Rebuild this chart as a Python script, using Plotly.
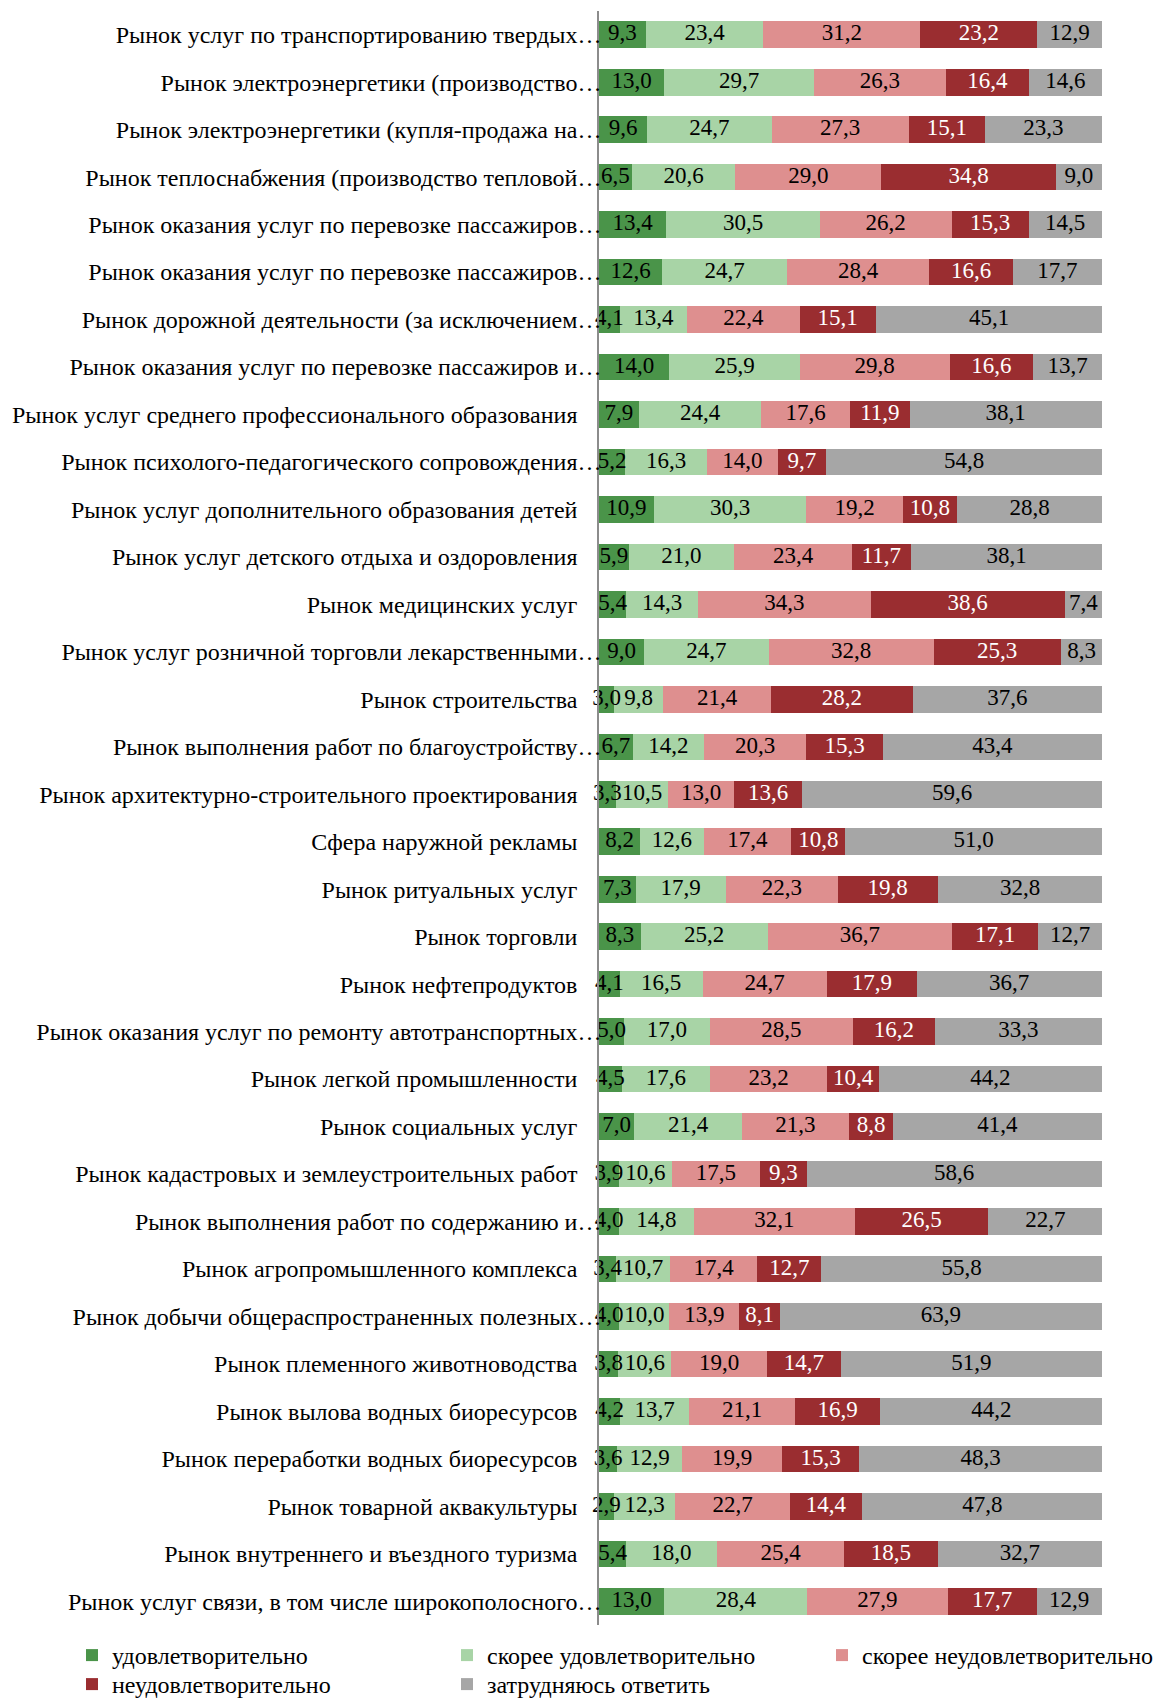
import plotly.graph_objects as go

categories = [
    "Рынок услуг по транспортированию твердых…",
    "Рынок электроэнергетики (производство…",
    "Рынок электроэнергетики (купля-продажа на…",
    "Рынок теплоснабжения (производство тепловой…",
    "Рынок оказания услуг по перевозке пассажиров…",
    "Рынок оказания услуг по перевозке пассажиров…",
    "Рынок дорожной деятельности (за исключением…",
    "Рынок оказания услуг по перевозке пассажиров и…",
    "Рынок услуг среднего профессионального образования",
    "Рынок психолого-педагогического сопровождения…",
    "Рынок услуг дополнительного образования детей",
    "Рынок услуг детского отдыха и оздоровления",
    "Рынок медицинских услуг",
    "Рынок услуг розничной торговли лекарственными…",
    "Рынок строительства",
    "Рынок выполнения работ по благоустройству…",
    "Рынок архитектурно-строительного проектирования",
    "Сфера наружной рекламы",
    "Рынок ритуальных услуг",
    "Рынок торговли",
    "Рынок нефтепродуктов",
    "Рынок оказания услуг по ремонту автотранспортных…",
    "Рынок легкой промышленности",
    "Рынок социальных услуг",
    "Рынок кадастровых и землеустроительных работ",
    "Рынок выполнения работ по содержанию и…",
    "Рынок агропромышленного комплекса",
    "Рынок добычи общераспространенных полезных…",
    "Рынок племенного животноводства",
    "Рынок вылова водных биоресурсов",
    "Рынок переработки водных биоресурсов",
    "Рынок товарной аквакультуры",
    "Рынок внутреннего и въездного туризма",
    "Рынок услуг связи, в том числе широкополосного…",
]

satisfied = [9.3, 13.0, 9.6, 6.5, 13.4, 12.6, 4.1, 14.0, 7.9, 5.2, 10.9, 5.9, 5.4, 9.0, 3.0, 6.7, 3.3,
             8.2, 7.3, 8.3, 4.1, 5.0, 4.5, 7.0, 3.9, 4.0, 3.4, 4.0, 3.8, 4.2, 3.6, 2.9, 5.4, 13.0]
rather_satisfied = [23.4, 29.7, 24.7, 20.6, 30.5, 24.7, 13.4, 25.9, 24.4, 16.3, 30.3, 21.0, 14.3, 24.7, 9.8,
                    14.2, 10.5, 12.6, 17.9, 25.2, 16.5, 17.0, 17.6, 21.4, 10.6, 14.8, 10.7, 10.0, 10.6, 13.7,
                    12.9, 12.3, 18.0, 28.4]
rather_unsatisfied = [31.2, 26.3, 27.3, 29.0, 26.2, 28.4, 22.4, 29.8, 17.6, 14.0, 19.2, 23.4, 34.3, 32.8, 21.4,
                      20.3, 13.0, 17.4, 22.3, 36.7, 24.7, 28.5, 23.2, 21.3, 17.5, 32.1, 17.4, 13.9, 19.0, 21.1,
                      19.9, 22.7, 25.4, 27.9]
unsatisfied = [23.2, 16.4, 15.1, 34.8, 15.3, 16.6, 15.1, 16.6, 11.9, 9.7, 10.8, 11.7, 38.6, 25.3, 28.2, 15.3,
               13.6, 10.8, 19.8, 17.1, 17.9, 16.2, 10.4, 8.8, 9.3, 26.5, 12.7, 8.1, 14.7, 16.9, 15.3, 14.4,
               18.5, 17.7]
hard_to_say = [12.9, 14.6, 23.3, 9.0, 14.5, 17.7, 45.1, 13.7, 38.1, 54.8, 28.8, 38.1, 7.4, 8.3, 37.6, 43.4,
               59.6, 51.0, 32.8, 12.7, 36.7, 33.3, 44.2, 41.4, 58.6, 22.7, 55.8, 63.9, 51.9, 44.2, 48.3, 47.8,
               32.7, 12.9]

series_names = ["удовлетворительно", "скорее удовлетворительно", "скорее неудовлетворительно",
                "неудовлетворительно", "затрудняюсь ответить"]
series_values = [satisfied, rather_satisfied, rather_unsatisfied, unsatisfied, hard_to_say]
series_colors = ["#4a9449", "#a8d4a6", "#de8f8f", "#9a2d30", "#a6a6a6"]
text_colors = ["black", "black", "black", "white", "black"]

FONT = "Liberation Serif, Times New Roman, serif"
OFF = 8  # page body margin
W, H = 1161 - OFF, 1698 - OFF
ML, MR, MT, MB = 599 - OFF, 59, 11 - OFF, 73
pw = W - ML - MR
ph = H - MT - MB

def px_x(p):
    return (p - OFF - ML) / pw

def px_y(p):
    return (H - MB - (p - OFF)) / ph

# legend placement (reference pixels): (x of legend box, top of legend box)
legend_pos = [(72, 1633), (447, 1633), (822, 1633), (72, 1662), (447, 1662)]
legend_keys = ["legend", "legend2", "legend3", "legend4", "legend5"]

ypos = list(range(len(categories)))
ticktext = [c if c.endswith("…") else c + "\u2003" for c in categories]

fig = go.Figure()
starts = [0.0] * len(categories)
label_traces = []
for name, vals, col, tcol, lg in zip(series_names, series_values, series_colors, text_colors, legend_keys):
    fig.add_trace(go.Bar(
        name=name, y=ypos, x=vals, orientation="h",
        marker=dict(color=col, line=dict(width=0)),
        legend=lg, hoverinfo="skip",
    ))
    mids = [s + v / 2 for s, v in zip(starts, vals)]
    label_traces.append(go.Scatter(
        x=mids, y=ypos, mode="text",
        text=[f"{v:.1f}".replace(".", ",") for v in vals],
        textposition="middle center",
        textfont=dict(family=FONT, size=23, color=tcol),
        cliponaxis=False, showlegend=False, hoverinfo="skip",
    ))
    starts = [s + v for s, v in zip(starts, vals)]

for t in label_traces:
    fig.add_trace(t)

legend_common = dict(orientation="v", yanchor="top", xanchor="left", traceorder="normal",
                     font=dict(family=FONT, size=24, color="black"),
                     bgcolor="rgba(0,0,0,0)", tracegroupgap=0, itemclick=False)

legends = {k: dict(x=px_x(x), y=px_y(y), **legend_common) for k, (x, y) in zip(legend_keys, legend_pos)}

fig.update_layout(
    width=W, height=H,
    barmode="stack", bargap=0.44,
    plot_bgcolor="white", paper_bgcolor="white",
    margin=dict(l=ML, r=MR, t=MT, b=MB, autoexpand=False),
    font=dict(family=FONT, size=24, color="black"),
    xaxis=dict(range=[0, 100], visible=False, fixedrange=True),
    yaxis=dict(range=[len(categories) - 0.5, -0.5], tickmode="array", tickvals=ypos, ticktext=ticktext,
               showline=True, linecolor="#8c8c8c", linewidth=1.5, ticks="", showgrid=False, zeroline=False,
               tickfont=dict(family=FONT, size=24, color="black"), ticklabelstandoff=-9),
    showlegend=True,
    **legends,
)

fig.write_html("out.html")
